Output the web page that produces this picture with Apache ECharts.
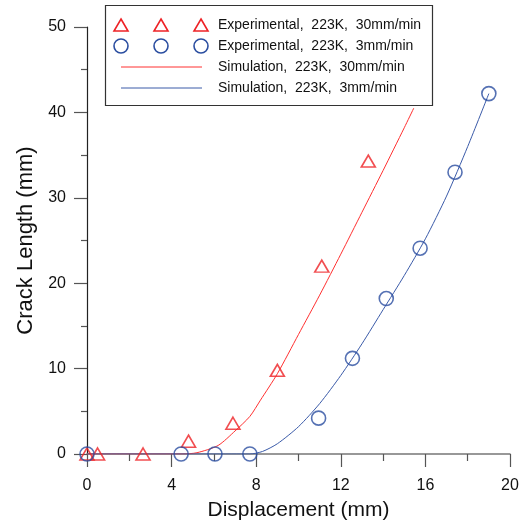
<!DOCTYPE html>
<html>
<head>
<meta charset="utf-8">
<script src="https://cdn.jsdelivr.net/npm/echarts@6/dist/echarts.min.js"></script>
<style>html,body{margin:0;padding:0;background:#fff;}#c{width:526px;height:524px;}</style>
</head>
<body>
<div id="c"></div>
<script>
// Experimental, 223K, 30mm/min
const exp30X = [0, 0.5, 2.65, 4.8, 6.9, 9.0, 11.1, 13.3];
const exp30Y = [0, 0, 0, 1.5, 3.6, 9.8, 22.0, 34.3];
// Experimental, 223K, 3mm/min
const exp3X = [0, 4.45, 6.05, 7.7, 10.95, 12.55, 14.15, 15.75, 17.4, 19.0];
const exp3Y = [0, 0, 0, 0, 4.2, 11.2, 18.2, 24.1, 33.0, 42.2];
// Simulation, 223K, 30mm/min
const sim30X = [0, 4.5, 5.2, 6.2, 7.0, 7.7, 8.2, 9.0, 10.0, 11.0, 12.0, 13.0, 14.0, 15.0, 15.45];
const sim30Y = [0, 0, 0.15, 1.0, 2.7, 4.4, 6.3, 9.4, 14.0, 18.6, 23.4, 28.3, 33.2, 38.2, 40.5];
// Simulation, 223K, 3mm/min
const sim3X = [0, 7.7, 8.3, 9.0, 10.0, 11.0, 12.0, 13.0, 14.0, 15.0, 16.0, 17.0, 18.0, 19.0];
const sim3Y = [0, 0, 0.3, 1.2, 3.2, 5.9, 9.2, 12.9, 16.9, 20.9, 25.2, 30.2, 36.0, 42.2];
// Axis ticks
const xTicks = [0, 4, 8, 12, 16, 20];
const yTicks = [0, 10, 20, 30, 40, 50];
const legendNames = ['Experimental,  223K,  30mm/min', 'Experimental,  223K,  3mm/min', 'Simulation,  223K,  30mm/min', 'Simulation,  223K,  3mm/min'];

const RED = '#ee2226', BLUE = '#2b4ea0', REDL = '#ff3030', BLUEL = '#3a5aa8';
const zip = (xs, ys) => xs.map((x, i) => [x, ys[i]]);
const chart = echarts.init(document.getElementById('c'), null, {renderer: 'canvas'});
const font = 'Arial, "Liberation Sans", sans-serif';

// Legend graphics
const lg = [];
const rowY = [25, 46, 67, 88];
lg.push({type: 'rect', shape: {x: 105.5, y: 5.5, width: 327, height: 100}, style: {fill: '#fff', stroke: '#333', lineWidth: 1.2}, z: 10});
[121, 161, 201].forEach(cx => {
  lg.push({type: 'polygon', shape: {points: [[cx, rowY[0] - 6], [cx + 7, rowY[0] + 6], [cx - 7, rowY[0] + 6]]}, style: {fill: 'none', stroke: RED, lineWidth: 1.6}, z: 11});
  lg.push({type: 'circle', shape: {cx: cx, cy: rowY[1], r: 7}, style: {fill: 'none', stroke: BLUE, lineWidth: 1.6}, z: 11});
});
lg.push({type: 'line', shape: {x1: 121, y1: rowY[2], x2: 202, y2: rowY[2]}, style: {stroke: REDL, lineWidth: 1}, z: 11});
lg.push({type: 'line', shape: {x1: 121, y1: rowY[3], x2: 202, y2: rowY[3]}, style: {stroke: BLUEL, lineWidth: 1}, z: 11});
legendNames.forEach((t, i) => {
  lg.push({type: 'text', x: 218, y: rowY[i], style: {text: t, fill: '#111', font: '14px ' + font, textVerticalAlign: 'middle', verticalAlign: 'middle'}, z: 11});
});

chart.setOption({
  animation: false,
  backgroundColor: '#fff',
  grid: {left: 87, right: 16, top: 27, bottom: 70, containLabel: false, outerBoundsMode: 'none'},
  xAxis: {
    type: 'value', min: 0, max: 20, interval: 4,
    name: 'Displacement (mm)', nameLocation: 'middle', nameGap: 46,
    nameTextStyle: {fontSize: 21, color: '#111', fontFamily: font},
    axisLine: {show: true, onZero: false, lineStyle: {color: '#777', width: 1.5}},
    axisTick: {show: true, inside: false, length: 13, lineStyle: {color: '#555', width: 1.2}},
    minorTick: {show: true, splitNumber: 2, length: 7, lineStyle: {color: '#555', width: 1.2}},
    axisLabel: {fontSize: 16, color: '#111', fontFamily: font, margin: 24, customValues: xTicks},
    splitLine: {show: false}
  },
  yAxis: {
    type: 'value', min: 0, max: 50, interval: 10,
    name: 'Crack Length (mm)', nameLocation: 'middle', nameGap: 50, nameRotate: 90,
    nameTextStyle: {fontSize: 22, color: '#111', fontFamily: font},
    axisLine: {show: true, onZero: false, lineStyle: {color: '#222', width: 1.2}},
    axisTick: {show: true, inside: false, length: 13, lineStyle: {color: '#555', width: 1.2}},
    minorTick: {show: true, splitNumber: 2, length: 6, lineStyle: {color: '#555', width: 1.2}},
    axisLabel: {fontSize: 16, color: '#111', fontFamily: font, margin: 21, customValues: yTicks},
    splitLine: {show: false}
  },
  series: [
    {name: legendNames[2], type: 'line', data: zip(sim30X, sim30Y), smooth: 0.25, symbol: 'none', lineStyle: {color: REDL, width: 1}, z: 3},
    {name: legendNames[3], type: 'line', data: zip(sim3X, sim3Y), smooth: 0.25, symbol: 'none', lineStyle: {color: BLUEL, width: 1}, z: 3},
    {name: legendNames[0], type: 'scatter', data: zip(exp30X, exp30Y), symbol: 'triangle', symbolSize: [14, 12], clip: false,
      itemStyle: {color: 'rgba(0,0,0,0)', borderColor: RED, borderWidth: 1.6}, z: 4},
    {name: legendNames[1], type: 'scatter', data: zip(exp3X, exp3Y), symbol: 'circle', symbolSize: 14, clip: false,
      itemStyle: {color: 'rgba(0,0,0,0)', borderColor: BLUE, borderWidth: 1.6}, z: 4}
  ],
  graphic: lg
});
</script>
</body>
</html>
